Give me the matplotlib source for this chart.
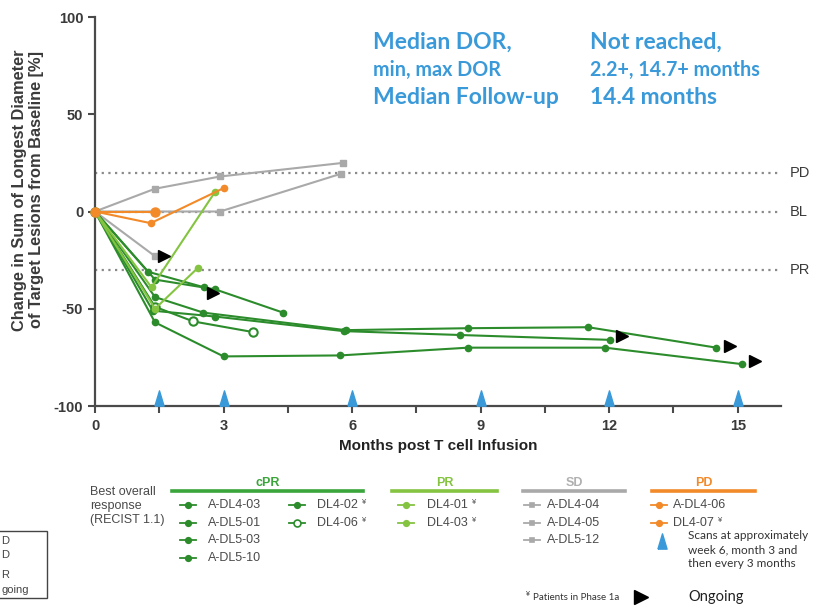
import matplotlib
matplotlib.use("Agg")
import matplotlib.pyplot as plt
from matplotlib.lines import Line2D
from matplotlib.patches import Rectangle

plt.rcParams["axes.unicode_minus"] = False

W, H = 835, 610

# ---- response curves: months after infusion / % change from baseline ----
# cPR
a_dl4_03_m = [0, 1.24, 2.55]
a_dl4_03_v = [0, -31, -39]
a_dl5_01_m = [0, 1.4, 2.8, 4.39]
a_dl5_01_v = [0, -35, -40, -52]
a_dl5_03_m = [0, 1.4, 2.53, 5.85, 8.71, 11.51, 14.5]
a_dl5_03_v = [0, -44, -52, -61, -60, -59.5, -70]
a_dl5_10_m = [0, 1.4, 3.0, 5.72, 8.71, 11.9, 15.11]
a_dl5_10_v = [0, -57, -74.5, -74, -70, -70, -78.5]
dl4_02_m = [0, 1.35, 2.8, 5.8, 8.52, 12.02]
dl4_02_v = [0, -51, -54, -61.5, -63.5, -66]
dl4_06_m = [0, 1.4, 2.29, 3.69]
dl4_06_v = [0, -49, -56.5, -62]
# PR
dl4_01_m = [0, 1.32, 2.8]
dl4_01_v = [0, -39, 10]
dl4_03_m = [0, 1.4, 2.4]
dl4_03_v = [0, -50, -29]
# SD
a_dl4_04_m = [0, 1.4, 2.92, 5.79]
a_dl4_04_v = [0, 11.7, 18, 25]
a_dl4_05_m = [0, 2.92, 5.74]
a_dl4_05_v = [0, 0, 19.4]
a_dl5_12_m = [0, 1.4]
a_dl5_12_v = [0, -23]
# PD
a_dl4_06_m = [0, 1.4]
a_dl4_06_v = [0, 0]
dl4_07_m = [0, 1.3, 3.0]
dl4_07_v = [0, -6, 12]

# ongoing patients
ongoing_m = [1.62, 2.75, 12.3, 14.82, 15.4]
ongoing_v = [-23, -42, -64, -69, -77]

# scan schedule
scan_months = [1.5, 3, 6, 9, 12, 15]

# response thresholds
ref_levels = [20, 0, -30]
ref_labels = ["PD", "BL", "PR"]

x_ticks = [0, 3, 6, 9, 12, 15]
x_minor = [1.5, 4.5, 7.5, 10.5, 13.5]
y_ticks = [-100, -50, 0, 50, 100]

stat_names = ["Median DOR,", "min, max DOR", "Median Follow-up"]
stat_values = ["Not reached,", "2.2+, 14.7+ months", "14.4 months"]

cpr_labels = ["A-DL4-03", "A-DL5-01", "A-DL5-03", "A-DL5-10", "DL4-02", "DL4-06"]
pr_labels = ["DL4-01", "DL4-03"]
sd_labels = ["A-DL4-04", "A-DL4-05", "A-DL5-12"]
pd_labels = ["A-DL4-06", "DL4-07"]

DARK = "#2c8c2c"
LIGHT = "#84c441"
GRAY = "#a9a9a9"
ORANGE = "#f28a2a"
BLUE = "#3a9ad9"
TXT = "#3a3a3a"

SANS = ["Liberation Sans", "DejaVu Sans"]
CAL = ["Lato", "DejaVu Sans"]

fig = plt.figure(figsize=(W / 100, H / 100), dpi=100)
left, right, top, bottom = 95, 780.6, 17, 406
ax = fig.add_axes([left / W, 1 - bottom / H, (right - left) / W, (bottom - top) / H])


def fx(x):
    return x / W


def fy(y):
    return 1 - y / H


# threshold lines
for lev, lab in zip(ref_levels, ref_labels):
    ax.plot([0, 16], [lev, lev], color="#8a8a8a", lw=1.6, ls=(0, (1.0, 2.0)), zorder=1, clip_on=False)
    ax.text(16.22, lev, lab, va="center", ha="left", fontsize=10.5, color=TXT, family=SANS)

kw = dict(lw=1.5, clip_on=False)
cpr_series = [(a_dl4_03_m, a_dl4_03_v), (a_dl5_01_m, a_dl5_01_v), (a_dl5_03_m, a_dl5_03_v),
              (a_dl5_10_m, a_dl5_10_v), (dl4_02_m, dl4_02_v)]
for m, v in cpr_series:
    ax.plot(m, v, color=DARK, marker="o", ms=4.5, zorder=3, **kw)
ax.plot(dl4_06_m, dl4_06_v, color=DARK, marker="o", ms=6, mfc="white", mew=1.5, zorder=3, **kw)

for m, v in [(dl4_01_m, dl4_01_v), (dl4_03_m, dl4_03_v)]:
    ax.plot(m, v, color=LIGHT, marker="o", ms=4.5, zorder=4, **kw)

for m, v in [(a_dl4_04_m, a_dl4_04_v), (a_dl4_05_m, a_dl4_05_v), (a_dl5_12_m, a_dl5_12_v)]:
    ax.plot(m, v, color=GRAY, marker="s", ms=4, zorder=2, **kw)

ax.plot(a_dl4_06_m, a_dl4_06_v, color=ORANGE, marker="o", ms=6.5, zorder=5, **kw)
ax.plot(dl4_07_m, dl4_07_v, color=ORANGE, marker="o", ms=4.5, zorder=5, **kw)

ax.plot(ongoing_m, ongoing_v, ls="none", marker=">", ms=9, color="black", zorder=6, clip_on=False)

tri = [(-0.6, -1), (0.6, -1), (0, 1), (-0.6, -1)]
ax.plot(scan_months, [-96.1] * len(scan_months), ls="none", marker=tri, ms=11, color=BLUE,
        mec=BLUE, zorder=6, clip_on=False)

ax.set_xlim(0, 16)
ax.set_ylim(-100, 100)
for s in ("top", "right"):
    ax.spines[s].set_visible(False)
for s in ("left", "bottom"):
    ax.spines[s].set_color("#4a4a4a")
    ax.spines[s].set_linewidth(1.6)
ax.set_xticks(x_ticks)
ax.set_xticks(x_minor, minor=True)
ax.set_yticks(y_ticks)
ax.tick_params(which="both", direction="out", length=5, width=1.5, color="#4a4a4a")
for lab in ax.get_xticklabels() + ax.get_yticklabels():
    lab.set_fontfamily(SANS)
    lab.set_fontweight("bold")
    lab.set_fontsize(10.5)
    lab.set_color(TXT)
ax.tick_params(axis="x", pad=4)
ax.set_xlabel("Months post T cell Infusion", fontsize=11, fontweight="bold", family=SANS,
              color="#222222", labelpad=5)
fig.text(fx(28), fy(190), "Change in Sum of Longest Diameter\nof Target Lesions from Baseline [%]",
         rotation=90, ha="center", va="center", fontsize=11.8, fontweight="bold", family=SANS,
         color=TXT, linespacing=1.1)

# summary statistics
stat_y = [42, 70, 98]
stat_size = [16.5, 14.2, 16.5]
for name, val, y, s in zip(stat_names, stat_values, stat_y, stat_size):
    fig.text(fx(373), fy(y), name, ha="left", va="center", fontsize=s, fontweight="bold",
             family=CAL, color=BLUE)
    fig.text(fx(590), fy(y), val, ha="left", va="center", fontsize=s, fontweight="bold",
             family=CAL, color=BLUE)


# ---- legend ----
def sample(x0, y, color, marker="o", ms=4, mfc=None):
    fig.add_artist(Line2D([fx(x0), fx(x0 + 16)], [fy(y), fy(y)], transform=fig.transFigure,
                          color=color, lw=1.3))
    fig.add_artist(Line2D([fx(x0 + 8)], [fy(y)], transform=fig.transFigure, color=color,
                          marker=marker, ms=ms, mfc=mfc if mfc else color, mew=1.2, ls="none"))


def label(x, y, text, mark=False):
    t = fig.text(fx(x), fy(y), text, ha="left", va="center", fontsize=9, family=SANS, color="#4a4a4a")
    if mark:
        fig.canvas.draw()
        bb = t.get_window_extent()
        fig.text(bb.x1 / W + 3 / W, fy(y - 3), "¥", ha="left", va="center", fontsize=5.5,
                 family=SANS, color="#4a4a4a")


def header(x0, x1, y, text, color, tcolor):
    fig.add_artist(Line2D([fx(x0), fx(x1)], [fy(y + 8), fy(y + 8)], transform=fig.transFigure,
                          color=color, lw=2.6))
    fig.text(fx((x0 + x1) / 2), fy(y), text, ha="center", va="center", fontsize=9,
             fontweight="bold", family=SANS, color=tcolor)


rows = [505, 523, 540, 558]

fig.text(fx(90), fy(486), "Best overall\nresponse\n(RECIST 1.1)", ha="left", va="top",
         fontsize=9, family=SANS, color="#4a4a4a", linespacing=1.2)

header(172, 363, 483, "cPR", "#3aa53a", "#3aa53a")
for i in range(4):
    sample(180, rows[i], DARK)
    label(208, rows[i], cpr_labels[i])
sample(289, rows[0], DARK)
label(317, rows[0], cpr_labels[4], mark=True)
sample(289, rows[1], DARK, ms=5, mfc="white")
label(317, rows[1], cpr_labels[5], mark=True)

header(392, 497, 483, "PR", LIGHT, LIGHT)
for i, name in enumerate(pr_labels):
    sample(398, rows[i], LIGHT)
    label(427, rows[i], name, mark=True)

header(523, 625, 483, "SD", GRAY, "#b0b0b0")
for i, name in enumerate(sd_labels):
    sample(524, rows[i], GRAY, marker="s", ms=3.5)
    label(547, rows[i], name)

header(652, 755, 483, "PD", ORANGE, ORANGE)
for i, name in enumerate(pd_labels):
    sample(651, rows[i], ORANGE)
    label(673, rows[i], name, mark=(i == 1))

fig.add_artist(Line2D([fx(662)], [fy(541)], transform=fig.transFigure, marker=tri, ms=11,
                      color=BLUE, ls="none"))
fig.text(fx(688), fy(530), "Scans at approximately\nweek 6, month 3 and\nthen every 3 months",
         ha="left", va="top", fontsize=8.5, family=CAL, color="#333333", linespacing=1.35)

fig.text(fx(525), fy(594), "¥", ha="left", va="center", fontsize=5, family=SANS, color="#333333")
fig.text(fx(533), fy(597), "Patients in Phase 1a", ha="left", va="center", fontsize=7,
         family=CAL, color="#333333")
fig.add_artist(Line2D([fx(641)], [fy(597)], transform=fig.transFigure, marker=">", ms=10,
                      color="black", ls="none"))
fig.text(fx(688), fy(597), "Ongoing", ha="left", va="center", fontsize=10.5, family=CAL, color="#222222")

# key box at the left edge (only its right end is on the page)
fig.add_artist(Rectangle((fx(-20), fy(598)), (47 + 20) / W, (598 - 531) / H, transform=fig.transFigure,
                         fill=False, ec="#444444", lw=1.0))
for y, t in [(541, "D"), (555, "D"), (575, "R")]:
    fig.text(fx(1), fy(y), t, ha="left", va="center", fontsize=8, family=SANS, color="#444444")
fig.text(fx(1), fy(590), "going", ha="left", va="center", fontsize=8, family=SANS, color="#444444")

fig.savefig("out.png", dpi=100)
